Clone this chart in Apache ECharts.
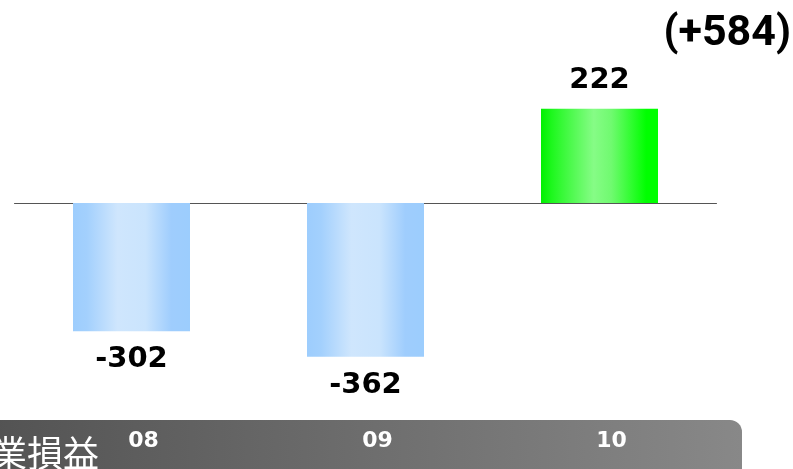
<!DOCTYPE html>
<html>
<head>
<meta charset="utf-8">
<script src="https://cdn.jsdelivr.net/npm/echarts@6/dist/echarts.min.js"></script>
<style>
html,body{margin:0;padding:0;background:#fff;}
#c{width:793px;height:469px;}
</style>
</head>
<body>
<div id="c"></div>
<script>
const categories = ['08', '09', '10'];
const values = [-302, -362, 222];
const changeLabel = '(+584)';
const rowTitle = '営業損益';

const blueGrad = new echarts.graphic.LinearGradient(0, 0, 1, 0, [
  {offset: 0, color: '#9dcdfd'},
  {offset: 0.12, color: '#a3d0fd'},
  {offset: 0.38, color: '#cfe6fd'},
  {offset: 0.62, color: '#cae4fd'},
  {offset: 0.84, color: '#9fcdfd'},
  {offset: 1, color: '#9ccdfd'}
]);
const greenGrad = new echarts.graphic.LinearGradient(0, 0, 1, 0, [
  {offset: 0, color: '#00f000'},
  {offset: 0.1, color: '#20f820'},
  {offset: 0.45, color: '#86fc86'},
  {offset: 0.6, color: '#70fa70'},
  {offset: 0.9, color: '#00ff00'},
  {offset: 1, color: '#00ff00'}
]);

const chart = echarts.init(document.getElementById('c'));
chart.setOption({
  animation: false,
  backgroundColor: '#fff',
  grid: [
    {left: 14.5, right: 76.5, top: 75.5, bottom: 96, containLabel: false, outerBoundsMode: 'none'},
    {left: 14.5, right: 76.5, top: 400, height: 26, containLabel: false, outerBoundsMode: 'none'}
  ],
  graphic: [
    {
      type: 'rect',
      z: -10,
      shape: {x: -20, y: 420, width: 762, height: 70, r: [0, 12, 0, 0]},
      style: {
        fill: new echarts.graphic.LinearGradient(0, 0, 1, 0, [
          {offset: 0, color: '#525252'},
          {offset: 1, color: '#888888'}
        ])
      }
    },
    {
      type: 'text',
      x: -45, y: 435,
      style: {
        text: rowTitle,
        fill: '#fff',
        font: '36px "Noto Sans CJK JP"',
        textAlign: 'left',
        textVerticalAlign: 'top',
        shadowColor: 'rgba(0,0,0,0.9)',
        shadowBlur: 2,
        shadowOffsetX: 1,
        shadowOffsetY: 1
      }
    },
    {
      type: 'text',
      x: 791, y: 34,
      style: {
        text: changeLabel,
        fill: '#000',
        font: 'bold 43px Roboto',
        textAlign: 'right',
        textVerticalAlign: 'middle'
      }
    }
  ],
  xAxis: [
    {
      type: 'category',
      gridIndex: 0,
      data: categories,
      axisLine: {onZero: true, lineStyle: {color: '#555', width: 1}},
      axisTick: {show: false},
      axisLabel: {show: false}
    },
    {
      type: 'category',
      gridIndex: 1,
      data: categories,
      z: 20,
      axisLine: {show: false},
      axisTick: {show: false},
      splitLine: {show: false},
      axisLabel: {
        color: '#fff',
        fontFamily: 'DejaVu Sans',
        fontWeight: 'bold',
        fontSize: 22,
        margin: 4,
        padding: [0, 0, 0, 24]
      }
    }
  ],
  yAxis: [
    {type: 'value', gridIndex: 0, min: -400, max: 300, show: false, splitLine: {show: false}},
    {type: 'value', gridIndex: 1, show: false, splitLine: {show: false}}
  ],
  series: [{
    type: 'bar',
    xAxisIndex: 0,
    yAxisIndex: 0,
    barWidth: '50%',
    data: values.map(v => ({
      value: v,
      itemStyle: {color: v < 0 ? blueGrad : greenGrad}
    })),
    label: {
      show: true,
      position: 'outside',
      distance: 14,
      color: '#000',
      fontFamily: 'DejaVu Sans',
      fontWeight: 'bold',
      fontSize: 29
    }
  }]
});
</script>
</body>
</html>
